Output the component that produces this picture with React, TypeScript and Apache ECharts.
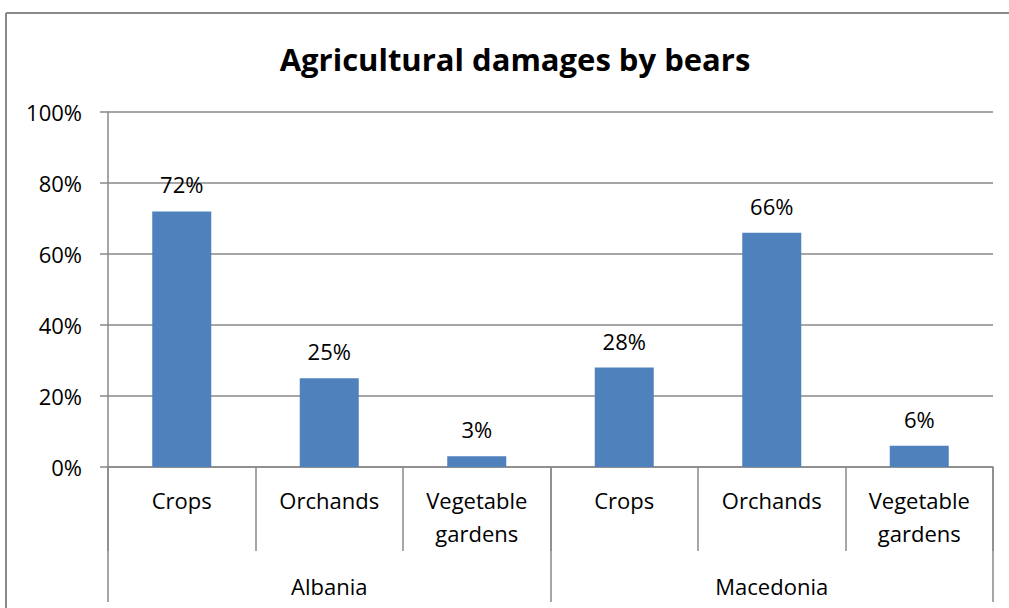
import React, { useEffect, useRef } from "react";
import * as echarts from "echarts";

const title = "Agricultural damages by bears";
const categories = ["Crops", "Orchands", "Vegetable\ngardens", "Crops", "Orchands", "Vegetable\ngardens"];
const groups = ["Albania", "Macedonia"];
const values = [72, 25, 3, 28, 66, 6];
const yTicks = [0, 20, 40, 60, 80, 100];

const GRAY = "#898989";
const FONT = "'Open Sans', sans-serif";

export default function App() {
  const ref = useRef<HTMLDivElement>(null);
  useEffect(() => {
    if (!ref.current) return;
    const chart = echarts.init(ref.current, null, { renderer: "svg" });
    chart.setOption({
      animation: false,
      backgroundColor: "#ffffff",
      title: {
        text: title,
        left: 510,
        top: 36,
        textAlign: "center",
        textStyle: { fontFamily: FONT, fontWeight: "bold", fontSize: 31, color: "#000", lineHeight: 36 },
      },
      graphic: [
        {
          type: "line",
          shape: { x1: 6, y1: 13, x2: 6, y2: 608 },
          style: { stroke: GRAY, lineWidth: 2 },
          silent: true,
        },
        {
          type: "line",
          shape: { x1: 6, y1: 13, x2: 1009, y2: 13 },
          style: { stroke: GRAY, lineWidth: 2 },
          silent: true,
        },
      ],
      grid: { left: 108, right: 16, top: 112, bottom: 141, containLabel: false },
      xAxis: [
        {
          type: "category",
          data: categories,
          position: "bottom",
          axisLine: { show: true, lineStyle: { color: GRAY, width: 1.5 } },
          axisTick: { show: true, interval: 0, length: 84, lineStyle: { color: GRAY, width: 1.5 } },
          axisLabel: {
            interval: 0,
            margin: 16,
            fontFamily: FONT,
            fontSize: 22,
            lineHeight: 33,
            color: "#000",
          },
        },
        {
          type: "category",
          data: groups,
          position: "bottom",
          offset: 0,
          axisLine: { show: false },
          axisTick: { show: true, interval: 0, length: 135, lineStyle: { color: GRAY, width: 1.5 } },
          axisLabel: {
            interval: 0,
            margin: 102,
            fontFamily: FONT,
            fontSize: 22,
            lineHeight: 33,
            color: "#000",
          },
        },
      ],
      yAxis: {
        type: "value",
        min: yTicks[0],
        max: yTicks[yTicks.length - 1],
        interval: 20,
        axisLine: { show: true, lineStyle: { color: GRAY, width: 1.5 } },
        axisTick: { show: true, length: 8, lineStyle: { color: GRAY, width: 1.5 } },
        splitLine: { show: true, lineStyle: { color: GRAY, width: 1.5 } },
        axisLabel: {
          formatter: "{value}%",
          margin: 26,
          fontFamily: FONT,
          fontSize: 22,
          color: "#000",
        },
      },
      series: [
        {
          type: "bar",
          xAxisIndex: 0,
          data: values,
          barWidth: "40%",
          itemStyle: { color: "#4F81BD" },
          label: {
            show: true,
            position: "top",
            distance: 16,
            formatter: "{c}%",
            fontFamily: FONT,
            fontSize: 22,
            lineHeight: 22,
            color: "#000",
          },
        },
      ],
    });
    return () => chart.dispose();
  }, []);
  return (
    <div
      ref={ref}
      style={{ position: "fixed", left: 0, top: 0, width: 1009, height: 608, background: "#fff", overflow: "hidden" }}
    />
  );
}
